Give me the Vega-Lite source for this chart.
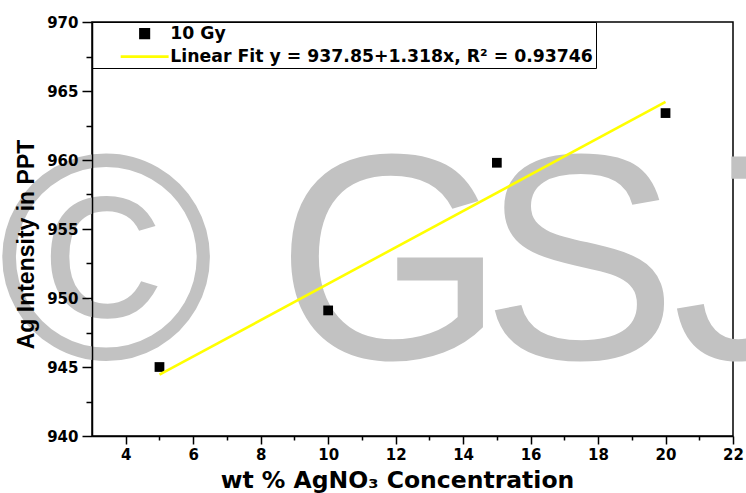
{
  "$schema": "https://vega.github.io/schema/vega-lite/v6.json",
  "width": 641,
  "height": 414,
  "autosize": {"type": "none"},
  "padding": {"left": 92, "top": 22, "right": 13, "bottom": 57},
  "background": "white",
  "config": {
    "view": {"stroke": "black", "strokeWidth": 1.5},
    "axis": {
      "grid": false,
      "domainColor": "black",
      "domainWidth": 1.5,
      "tickColor": "black",
      "tickWidth": 1.5,
      "labelColor": "black",
      "titleColor": "black",
      "labelOverlap": false
    },
    "legend": {
      "orient": "top-left",
      "offset": 0,
      "padding": 3,
      "rowPadding": 3,
      "strokeColor": "black",
      "fillColor": "white",
      "labelFont": "DejaVu Sans",
      "labelFontWeight": "bold",
      "labelFontSize": 17.3,
      "labelColor": "black",
      "labelLimit": 0,
      "labelOffset": 17,
      "symbolOffset": 41,
      "symbolSize": 72,
      "symbolStrokeWidth": 2.6,
      "symbolOpacity": 1
    }
  },
  "resolve": {"axis": {"x": "independent", "y": "independent"}},
  "datasets": {
    "points": [
      {"conc": 5, "ppt": 945.0, "series": "10 Gy"},
      {"conc": 10, "ppt": 949.1, "series": "10 Gy"},
      {"conc": 15, "ppt": 959.8, "series": "10 Gy"},
      {"conc": 20, "ppt": 963.4, "series": "10 Gy"}
    ],
    "fit": [
      {"conc": 5, "ppt": 944.44, "series": "Linear Fit y = 937.85+1.318x, R² = 0.93746"},
      {"conc": 20, "ppt": 964.21, "series": "Linear Fit y = 937.85+1.318x, R² = 0.93746"}
    ],
    "watermark": [
      {"conc": 3.42, "ppt": 945.6, "glyph": "©"},
      {"conc": 11.85, "ppt": 945.6, "glyph": "G"},
      {"conc": 17.45, "ppt": 945.6, "glyph": "S"},
      {"conc": 22.38, "ppt": 945.6, "glyph": "J"}
    ]
  },
  "layer": [
    {
      "data": {"name": "watermark"},
      "mark": {"type": "text", "align": "center", "baseline": "alphabetic", "font": "Liberation Sans", "fontSize": 294, "color": "#c2c2c2"},
      "encoding": {
        "x": {
          "field": "conc", "type": "quantitative",
          "scale": {"domain": [3, 22], "nice": false, "zero": false},
          "axis": {
            "orient": "bottom",
            "title": null,
            "zindex": 1,
            "values": [5, 7, 9, 11, 13, 15, 17, 19, 21],
            "labels": false,
            "domain": false,
            "tickSize": 4
          }
        },
        "y": {
          "field": "ppt", "type": "quantitative",
          "scale": {"domain": [940, 970], "nice": false, "zero": false},
          "axis": {
            "orient": "left",
            "title": null,
            "zindex": 1,
            "values": [942.5, 947.5, 952.5, 957.5, 962.5, 967.5],
            "labels": false,
            "domain": false,
            "tickSize": 6
          }
        },
        "text": {"field": "glyph"}
      }
    },
    {
      "data": {"name": "points"},
      "mark": {"type": "point", "filled": true, "size": 95, "opacity": 1},
      "encoding": {
        "x": {
          "field": "conc", "type": "quantitative",
          "axis": {
            "orient": "bottom",
            "title": "wt % AgNO₃ Concentration",
            "zindex": 1,
            "values": [4, 6, 8, 10, 12, 14, 16, 18, 20, 22],
            "tickSize": 8,
            "labelPadding": 3,
            "labelFont": "DejaVu Sans",
            "labelFontWeight": "bold",
            "labelFontSize": 15,
            "labelFlush": false,
            "titleFont": "DejaVu Sans",
            "titleFontWeight": "bold",
            "titleFontSize": 23.5,
            "titlePadding": 6,
            "titleX": 305
          }
        },
        "y": {
          "field": "ppt", "type": "quantitative",
          "axis": {
            "orient": "left",
            "title": "Ag Intensity in PPT",
            "zindex": 1,
            "values": [940, 945, 950, 955, 960, 965, 970],
            "format": "d",
            "tickSize": 10,
            "labelPadding": 4,
            "labelFont": "DejaVu Sans",
            "labelFontWeight": "bold",
            "labelFontSize": 15,
            "labelFlush": false,
            "titleFont": "Liberation Sans",
            "titleFontWeight": "bold",
            "titleFontSize": 23,
            "titlePadding": 8,
            "titleY": 222
          }
        },
        "fill": {
          "field": "series", "type": "nominal",
          "scale": {"domain": ["10 Gy", "Linear Fit y = 937.85+1.318x, R² = 0.93746"], "range": ["black", "#ffff00"]},
          "legend": {"title": null}
        },
        "shape": {
          "field": "series", "type": "nominal",
          "scale": {"domain": ["10 Gy", "Linear Fit y = 937.85+1.318x, R² = 0.93746"], "range": ["square", "M-5.65,0H5.65"]},
          "legend": {"title": null}
        }
      }
    },
    {
      "data": {"name": "fit"},
      "mark": {"type": "line", "strokeWidth": 2.6},
      "encoding": {
        "x": {"field": "conc", "type": "quantitative", "axis": null},
        "y": {"field": "ppt", "type": "quantitative", "axis": null},
        "stroke": {
          "field": "series", "type": "nominal",
          "scale": {"domain": ["10 Gy", "Linear Fit y = 937.85+1.318x, R² = 0.93746"], "range": ["black", "#ffff00"]},
          "legend": {"title": null}
        }
      }
    }
  ]
}
